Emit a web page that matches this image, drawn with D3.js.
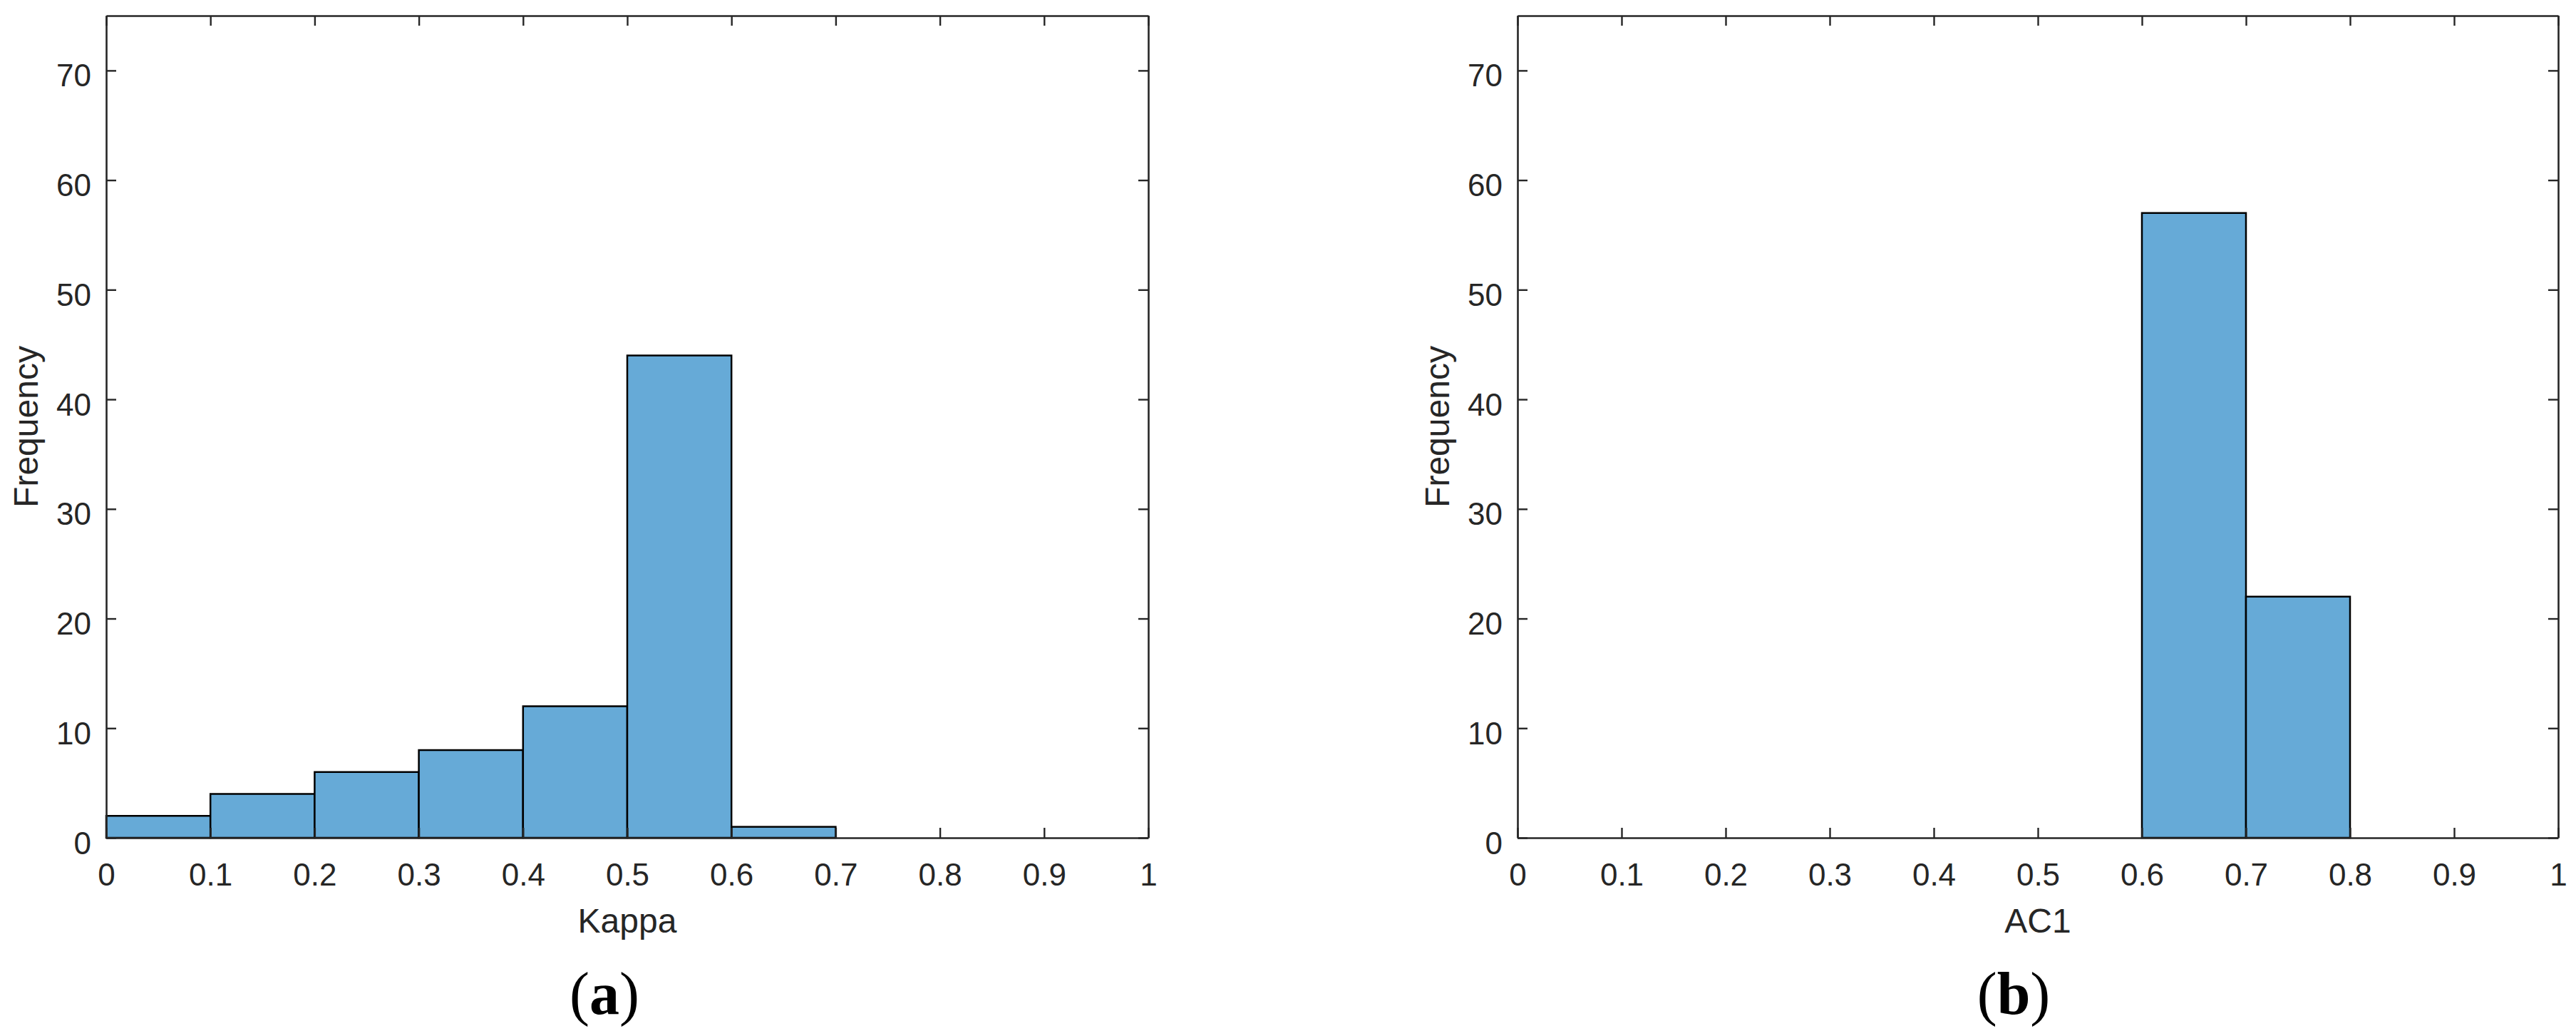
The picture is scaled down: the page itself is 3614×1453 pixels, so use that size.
<!DOCTYPE html>
<html>
<head>
<meta charset="utf-8">
<script src="https://cdn.jsdelivr.net/npm/d3@7"></script>
<style>
  body { margin: 0; background: #fff; }
  svg { display: block; }
</style>
</head>
<body>
<div id="chart"></div>
<script>
// histogram bins (shared by both panels)
const binEdges = [0, 0.1, 0.2, 0.3, 0.4, 0.5, 0.6, 0.7, 0.8, 0.9, 1.0];
const kappaCounts = [2, 4, 6, 8, 12, 44, 1, 0, 0, 0];
const ac1Counts = [0, 0, 0, 0, 0, 0, 57, 22, 0, 0];
const xTicks = [0, 0.1, 0.2, 0.3, 0.4, 0.5, 0.6, 0.7, 0.8, 0.9, 1];
const yTicks = [0, 10, 20, 30, 40, 50, 60, 70];
const panels = [
    {xLabel: "Kappa", tag: "a", counts: kappaCounts},
    {xLabel: "AC1", tag: "b", counts: ac1Counts}
];

const width = 3614;
const height = 1453;
const tickFont = "44px 'Liberation Sans', Arial, sans-serif";
const labelFont = "48px 'Liberation Sans', Arial, sans-serif";
const axisColor = "#262626";
const barColor = "#66aad7";
const tickLen = 14;

// plot boxes, left/right edges of each panel
const boxes = [
    {left: 149, right: 1611, tagX: 848},
    {left: 2129, right: 3589, tagX: 2825}
];
const plotTop = 22, plotBottom = 1175;

const svg = d3.select("#chart").append("svg")
    .attr("width", width)
    .attr("height", height);

svg.append("rect").attr("width", width).attr("height", height).attr("fill", "#fff");

panels.forEach((p, i) => {
    const b = boxes[i];
    const x = d3.scaleLinear().domain([0, 1]).range([b.left, b.right]);
    const y = d3.scaleLinear().domain([0, 75]).range([plotBottom, plotTop]);

    const bins = p.counts.map((c, k) => ({x0: binEdges[k], x1: binEdges[k + 1], count: c}))
        .filter(d => d.count > 0);

    const g = svg.append("g");

    // bars
    g.append("g")
        .selectAll("rect")
        .data(bins)
        .join("rect")
        .attr("x", d => x(d.x0))
        .attr("y", d => y(d.count))
        .attr("width", d => x(d.x1) - x(d.x0))
        .attr("height", d => y(0) - y(d.count))
        .attr("fill", barColor)
        .attr("stroke", "#000")
        .attr("stroke-width", 2.5);

    const styleAxis = sel => {
        sel.select(".domain").attr("stroke", axisColor).attr("stroke-width", 2.6);
        sel.selectAll(".tick line").attr("stroke", axisColor).attr("stroke-width", 2.4);
        sel.selectAll(".tick text").attr("fill", axisColor).style("font", tickFont);
    };

    // bottom axis
    g.append("g")
        .attr("transform", `translate(0,${plotBottom})`)
        .call(d3.axisBottom(x).tickValues(xTicks).tickSizeInner(-tickLen).tickSizeOuter(0)
            .tickPadding(36).tickFormat(d3.format("~g")))
        .call(styleAxis);

    // left axis
    g.append("g")
        .attr("transform", `translate(${b.left},0)`)
        .call(d3.axisLeft(y).tickValues(yTicks).tickSizeInner(-tickLen).tickSizeOuter(0)
            .tickPadding(21))
        .call(styleAxis)
        .call(s => s.selectAll(".tick text").attr("dy", "0.5em"));

    // top and right box edges with inward ticks
    g.append("g")
        .attr("transform", `translate(0,${plotTop})`)
        .call(d3.axisTop(x).tickValues(xTicks).tickSizeInner(-tickLen).tickSizeOuter(0).tickFormat(""))
        .call(styleAxis);

    g.append("g")
        .attr("transform", `translate(${b.right},0)`)
        .call(d3.axisRight(y).tickValues(yTicks).tickSizeInner(-tickLen).tickSizeOuter(0).tickFormat(""))
        .call(styleAxis);

    // axis labels
    g.append("text")
        .attr("x", (b.left + b.right) / 2)
        .attr("y", 1308)
        .attr("text-anchor", "middle")
        .attr("fill", axisColor)
        .style("font", labelFont)
        .text(p.xLabel);

    g.append("text")
        .attr("transform", `translate(${b.left - 96},${(plotTop + plotBottom) / 2}) rotate(-90)`)
        .attr("text-anchor", "middle")
        .attr("fill", axisColor)
        .style("font", labelFont)
        .text("Frequency");

    // panel tag, e.g. (a)
    const tag = g.append("text")
        .attr("x", b.tagX)
        .attr("y", 1422)
        .attr("text-anchor", "middle")
        .attr("fill", "#000")
        .style("font", "84px 'Liberation Serif', 'Times New Roman', serif");
    tag.append("tspan").text("(");
    tag.append("tspan").attr("font-weight", "bold").text(p.tag);
    tag.append("tspan").text(")");
});
</script>
</body>
</html>
